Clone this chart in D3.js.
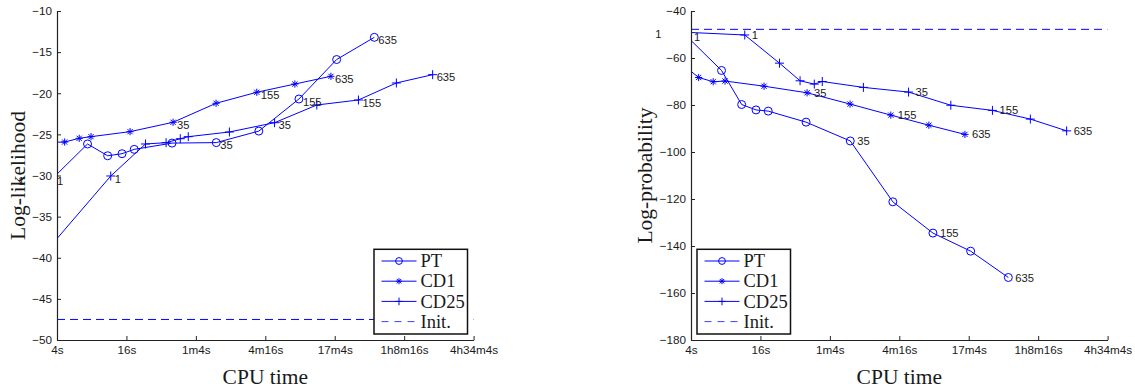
<!DOCTYPE html>
<html>
<head>
<meta charset="utf-8">
<script src="https://cdn.jsdelivr.net/npm/d3@7"></script>
<style>
  html, body { margin: 0; padding: 0; background: #fff; }
  svg { display: block; }
</style>
</head>
<body>
<svg id="chart" width="1135" height="390"></svg>
<script>
// ---------------- data ----------------
const xTickSeconds = [4, 16, 64, 256, 1024, 4096, 16384];
const xTickLabels = ["4s", "16s", "1m4s", "4m16s", "17m4s", "1h8m16s", "4h34m4s"];
const xDomain = [4, 16384];

const seriesNames = ["PT", "CD1", "CD25", "Init."];

// CPU time (seconds) of every evaluation
const ptTimes   = [3.7, 7.36, 11.0, 14.65, 18.7, 39.8, 96.2, 225, 501, 1064, 2258];
const cd1Times  = [1.7, 3.85, 4.66, 6.23, 7.89, 17.2, 40.6, 95.8, 216, 462, 949];
const cd25Times = [1.0, 11.7, 23.4, 35.3, 46.9, 55.0, 125, 308, 716, 1644, 3505, 7233];

// iteration labels: [point index, text]
const ptLabels   = [[0, "1"], [6, "35"], [8, "155"], [10, "635"]];
const cd1Labels  = [[0, "1"], [6, "35"], [8, "155"], [10, "635"]];
const cd25Labels = [[1, "1"], [7, "35"], [9, "155"], [11, "635"]];

// left panel: log-likelihood
const llTicks = [-10, -15, -20, -25, -30, -35, -40, -45, -50];
const ptLogLik   = [-30.3, -26.17, -27.6, -27.35, -26.82, -26.06, -26.0, -24.6, -20.7, -15.9, -13.2];
const cd1LogLik  = [-30.3, -25.95, -25.93, -25.48, -25.28, -24.67, -23.53, -21.22, -19.88, -18.88, -17.94];
const cd25LogLik = [-47.5, -30.06, -26.17, -26.01, -25.53, -25.28, -24.71, -23.58, -21.43, -20.82, -18.75, -17.74];
const initLogLik = -47.5;

// right panel: log-probability
const lpTicks = [-40, -60, -80, -100, -120, -140, -160, -180];
const ptLogProb   = [-50.9, -65.3, -79.8, -82.1, -82.6, -87.3, -95.3, -121.2, -134.5, -142.2, -153.4];
const cd1LogProb  = [-49.8, -65.0, -68.3, -70.1, -69.8, -72.0, -74.8, -79.6, -84.3, -88.6, -92.5];
const cd25LogProb = [-47.8, -50.2, -62.2, -69.7, -71.1, -70.0, -72.5, -74.5, -80.1, -82.3, -86.0, -91.0];
const initLogProb = -47.8;

// ---------------- drawing ----------------
const svg = d3.select("#chart");
const BLUE = "#0000ff";
const SANS = "'Liberation Sans', Arial, sans-serif";
const SERIF = "'Liberation Serif', 'Times New Roman', serif";

function marker(g, type, cx, cy, s) {
  s = s || 1;
  if (type === "circle") {
    g.append("circle").attr("cx", cx).attr("cy", cy).attr("r", 4 * s)
      .attr("fill", "none").attr("stroke", BLUE).attr("stroke-width", 1);
  } else if (type === "star") {
    const a = 3.6 * s, b = 2.6 * s;
    g.append("path")
      .attr("d", `M${cx - a},${cy}H${cx + a}M${cx},${cy - a}V${cy + a}M${cx - b},${cy - b}L${cx + b},${cy + b}M${cx - b},${cy + b}L${cx + b},${cy - b}`)
      .attr("stroke", BLUE).attr("stroke-width", 1).attr("fill", "none");
  } else if (type === "plus") {
    const a = 4.5 * s;
    g.append("path")
      .attr("d", `M${cx - a},${cy}H${cx + a}M${cx},${cy - a}V${cy + a}`)
      .attr("stroke", BLUE).attr("stroke-width", 1).attr("fill", "none");
  }
}

function drawPanel(o) {
  const left = o.left, top = 11, bottom = 340, width = 416.6;
  const x = d3.scaleLog().base(4).domain(xDomain).range([left, left + width]);
  const y = d3.scaleLinear().domain([o.ticks[o.ticks.length - 1], o.ticks[0]]).range([bottom, top]);
  const g = svg.append("g");
  const clipId = "clip" + o.id;
  svg.append("defs").append("clipPath").attr("id", clipId)
    .append("rect").attr("x", left).attr("y", top).attr("width", width).attr("height", bottom - top);

  const lines = g.append("g").attr("clip-path", `url(#${clipId})`);
  // init dashed line
  lines.append("line")
    .attr("x1", x(xDomain[0])).attr("x2", x(xDomain[1]))
    .attr("y1", y(o.init)).attr("y2", y(o.init))
    .attr("stroke", BLUE).attr("stroke-width", 1).attr("stroke-dasharray", "8,5");

  const lineGen = d3.line().x(d => x(d.t)).y(d => y(d.v));
  const markG = g.append("g");
  const labG = g.append("g");
  o.series.forEach(s => {
    const pts = s.times.map((t, i) => ({ t: t, v: s.values[i] }));
    lines.append("path").datum(pts).attr("d", lineGen)
      .attr("fill", "none").attr("stroke", BLUE).attr("stroke-width", 1);
    pts.forEach(p => {
      if (p.t >= xDomain[0]) marker(markG, s.marker, x(p.t), y(p.v));
    });
    s.labels.forEach(([i, txt]) => {
      labG.append("text")
        .attr("x", x(pts[i].t) + o.labDx).attr("y", y(pts[i].v) + o.labDy)
        .attr("dy", "0.36em")
        .attr("font-family", SANS).attr("font-size", "11.2px").attr("fill", "#1a1a1a")
        .text(txt);
    });
  });

  // axes
  const ax = g.append("g").attr("transform", `translate(0,${bottom})`)
    .call(d3.axisBottom(x).tickValues(xTickSeconds).tickFormat((d, i) => xTickLabels[i])
      .tickSizeInner(-4).tickSizeOuter(0).tickPadding(6));
  const ay = g.append("g").attr("transform", `translate(${left},0)`)
    .call(d3.axisLeft(y).tickValues(o.ticks).tickFormat(d3.format("d"))
      .tickSizeInner(-4).tickSizeOuter(0).tickPadding(5));
  [ax, ay].forEach(a => {
    a.select(".domain").attr("stroke", "#222").attr("stroke-width", 1.2);
    a.selectAll(".tick line").attr("stroke", "#222").attr("stroke-width", 1);
    a.selectAll("text").attr("font-family", SANS).attr("font-size", "11.7px").attr("fill", "#1a1a1a");
  });

  // titles
  g.append("text").attr("x", left + width / 2).attr("y", 383.5)
    .attr("text-anchor", "middle").attr("font-family", SERIF).attr("font-size", "21.5px")
    .attr("fill", "#1a1a1a").text("CPU time");
  g.append("text").attr("transform", `translate(${o.ytitleX},${(top + bottom) / 2}) rotate(-90)`)
    .attr("text-anchor", "middle").attr("font-family", SERIF).attr("font-size", "21.5px")
    .attr("fill", "#1a1a1a").text(o.ytitle);

  // legend
  const lg = g.append("g");
  lg.append("rect").attr("x", o.legX).attr("y", 249.3).attr("width", 93.5).attr("height", 84.7)
    .attr("fill", "#fff").attr("stroke", "#111").attr("stroke-width", 1.5);
  const types = ["circle", "star", "plus", "dash"];
  seriesNames.forEach((name, i) => {
    const cy = 261 + i * 20.2;
    const x1 = o.legX + 7.5, x2 = o.legX + 42.5;
    const ln = lg.append("line").attr("x1", x1).attr("x2", x2).attr("y1", cy).attr("y2", cy)
      .attr("stroke", BLUE).attr("stroke-width", 1);
    if (types[i] === "dash") ln.attr("stroke-dasharray", "7,6").attr("stroke-opacity", 0.75);
    else marker(lg, types[i], (x1 + x2) / 2, cy, 0.85);
    lg.append("text").attr("x", o.legX + 46.5).attr("y", cy).attr("dy", "0.34em")
      .attr("font-family", SERIF).attr("font-size", "18.5px").attr("fill", "#1a1a1a").text(name);
  });
}

drawPanel({
  id: "L", left: 57, ticks: llTicks, init: initLogLik, ytitle: "Log-likelihood", ytitleX: 25,
  legX: 374, labDx: 4, labDy: 2.7,
  series: [
    { times: ptTimes, values: ptLogLik, marker: "circle", labels: ptLabels },
    { times: cd1Times, values: cd1LogLik, marker: "star", labels: cd1Labels },
    { times: cd25Times, values: cd25LogLik, marker: "plus", labels: cd25Labels }
  ]
});
drawPanel({
  id: "R", left: 691, ticks: lpTicks, init: initLogProb, ytitle: "Log-probability", ytitleX: 651.7,
  legX: 697, labDx: 7, labDy: 0,
  series: [
    { times: ptTimes, values: ptLogProb, marker: "circle", labels: ptLabels },
    { times: cd1Times, values: cd1LogProb, marker: "star", labels: cd1Labels },
    { times: cd25Times, values: cd25LogProb, marker: "plus", labels: cd25Labels }
  ]
});
</script>
</body>
</html>
